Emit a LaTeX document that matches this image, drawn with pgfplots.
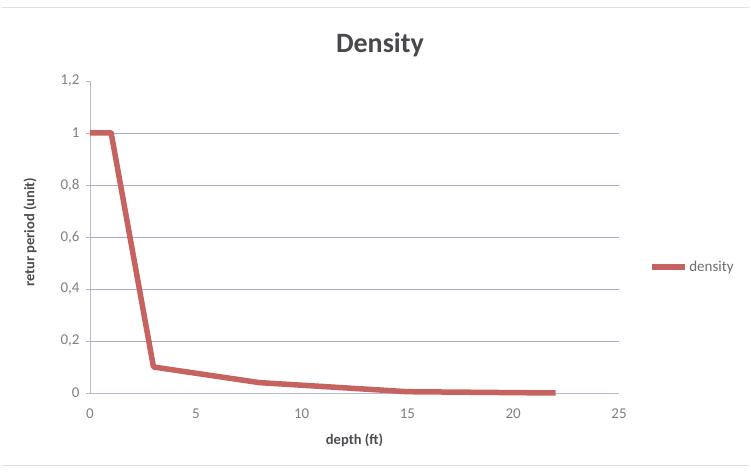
\documentclass[border=0pt]{standalone}
\usepackage{fontspec}
\setmainfont{Carlito}
\usepackage{pgfplots}
\pgfplotsset{compat=1.18}
\definecolor{linered}{RGB}{198,98,95}
\definecolor{gridc}{RGB}{170,170,205}
\definecolor{axc}{RGB}{185,185,205}
\definecolor{txt}{RGB}{85,85,90}
\begin{document}
\begin{tikzpicture}[x=1pt,y=1pt]
\path[use as bounding box] (-90,-80) rectangle (661,393);
\draw[black!12, line width=1pt] (-88,385) -- (659,385);
\draw[black!12, line width=1pt] (-88,-72) -- (659,-72);
\begin{axis}[
  at={(0,0)}, anchor=south west,
  scale only axis, width=529pt, height=312pt,
  xmin=0, xmax=25, ymin=0, ymax=1.2,
  axis lines=left,
  axis line style={axc, line width=0.6pt, -},
  xtick={0,5,10,15,20,25},
  ytick={0,0.2,0.4,0.6,0.8,1},
  extra y ticks={1.2},
  extra y tick style={grid=none},
  ymajorgrids,
  grid style={gridc, line width=0.7pt},
  tick style={axc, line width=0.6pt},
  major tick length=4pt,
  tick align=outside,
  xtick style={draw=none},
  /pgf/number format/use comma,
  /pgf/number format/assume math mode=true,
  ticklabel style={font=\fontsize{15}{17}\selectfont, text=txt!75},
  yticklabel style={xshift=-3pt},
  xticklabel style={yshift=-8pt},
  title={\bfseries Density},
  title style={font=\fontsize{28}{30}\selectfont, text=txt!85!black, at={(0.548,1)}, yshift=22pt, anchor=base},
  xlabel={\bfseries depth (ft)},
  ylabel={\bfseries retur period (unit)},
  label style={font=\fontsize{14.5}{16}\selectfont, text=txt!90!black},
  xlabel style={at={(axis description cs:0.5,-0.151)}, anchor=center},
  ylabel style={at={(axis description cs:-0.113,0.515)}, anchor=center, rotate=0},
  legend style={at={(1.056,0.404)}, anchor=west, draw=none, fill=none,
    font=\fontsize{15}{17}\selectfont, text=txt!85, inner sep=0pt,
    /tikz/every even column/.append style={column sep=0pt}},
  legend image code/.code={\draw[#1, line width=5.5pt] (0pt,0pt) -- (33pt,0pt);},
  clip=false,
]
\addplot[linered, line width=5.5pt, line join=round] coordinates {
  (0,1) (1,1) (3,0.1) (8,0.04) (15,0.005) (22,0.0)
};
\addlegendentry{density}
\end{axis}
\end{tikzpicture}
\end{document}
